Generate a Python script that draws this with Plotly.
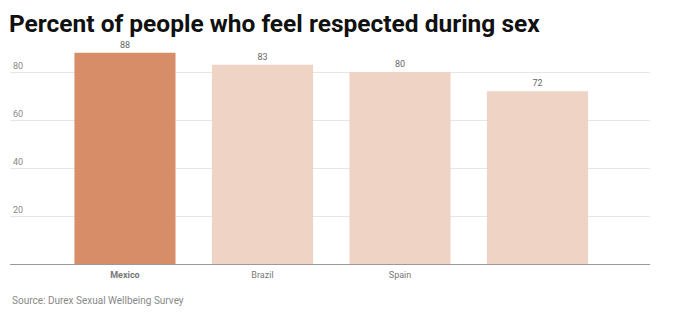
import plotly.graph_objects as go

countries = ["Mexico", "Brazil", "Spain", " "]
values = [88, 83, 80, 72]
bar_colors = ["#D88D69", "#EFD4C6", "#EFD4C6", "#EFD4C6"]
tick_vals = [20, 40, 60, 80]
tick_text = ["20", "40", "60", "80"]

FONT = "Roboto, Liberation Sans, sans-serif"

fig = go.Figure()
fig.add_trace(go.Bar(
    x=countries, y=values,
    marker=dict(color=bar_colors, line=dict(width=0)),
    text=[str(v) for v in values],
    textposition="outside",
    textfont=dict(family=FONT, size=9, color="#666666"),
    cliponaxis=False,
    width=0.735,
))

fig.update_layout(
    width=687, height=328,
    margin=dict(l=10, r=37, t=48, b=64),
    paper_bgcolor="white", plot_bgcolor="white",
    showlegend=False,
    title=dict(
        text="<b>Percent of people who feel respected during sex</b>",
        x=0.013, xanchor="left", y=0.928, yanchor="middle",
        font=dict(family=FONT, size=24.5, color="#111111"),
    ),
    xaxis=dict(
        range=[-0.836, 3.818],
        showgrid=False, zeroline=False,
        showline=True, linecolor="#999999", linewidth=1,
        tickfont=dict(family=FONT, size=9, color="#777777"),
        tickmode="array", tickvals=countries,
        ticktext=["<b>Mexico</b>", "Brazil", "Spain", " "],
        ticks="", ticklabelstandoff=2,
    ),
    yaxis=dict(
        range=[0, 90],
        tickmode="array", tickvals=tick_vals, ticktext=tick_text,
        showgrid=True, gridcolor="#E6E6E6", gridwidth=1,
        zeroline=False, showline=False,
        ticklabelposition="inside", ticklabelshift=-6,
        tickfont=dict(family=FONT, size=9, color="#888888"),
    ),
    annotations=[dict(
        text="Source: Durex Sexual Wellbeing Survey",
        xref="paper", yref="paper", x=0, y=-0.171, xanchor="left", yanchor="middle",
        showarrow=False,
        font=dict(family=FONT, size=10, color="#888888"),
    )],
)
fig.update_yaxes(layer="below traces")
fig.write_html("out.html")
